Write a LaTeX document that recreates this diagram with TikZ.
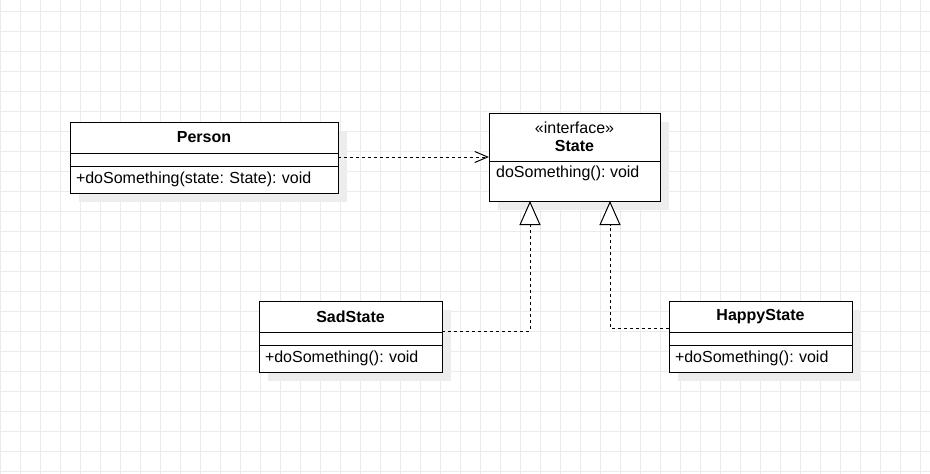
\documentclass[tikz,border=0pt]{standalone}
\usepackage{fontspec}
\setmainfont{Liberation Sans}
\usepackage{tikz}
\usetikzlibrary{arrows.meta,shadows}
\definecolor{gridgray}{HTML}{EBEBEB}
\definecolor{shadowgray}{HTML}{EDEDED}

\begin{document}
\frenchspacing
\begin{tikzpicture}[
  x=1pt,y=-1pt,
  font=\fontsize{16pt}{17.5pt}\selectfont,
  gridline/.style={draw=gridgray,line width=0.8pt},
  part/.style={draw=black,line width=1pt,fill=white,anchor=north west,inner sep=0pt,outer sep=0pt,
    drop shadow={shadow xshift=9pt,shadow yshift=-9pt,fill=shadowgray,opacity=1}},
  ctitle/.style={part,font=\fontsize{16pt}{17.5pt}\selectfont\bfseries,align=center},
  cattr/.style={part,minimum height=13pt},
  cops/.style={part,align=left,inner xsep=6pt},
  optext/.style={anchor=west,inner sep=0pt},
  dep/.style={draw=black,line width=1pt,dash pattern=on 3pt off 3pt,
    -{Straight Barb[length=13pt,width=11pt,line width=1pt]}},
  real/.style={draw=black,line width=1pt,dash pattern=on 3pt off 3pt,
    -{Triangle[length=24pt,width=21pt,fill=white,line width=1pt]}},
]

% canvas and grid
\useasboundingbox[fill=white] (0,0) rectangle (930,474);
\foreach \gx in {0,20,...,920}
  \draw[gridline] (\gx,0) -- (\gx,474);
\foreach \gy in {11,31,...,471}
  \draw[gridline] (0,\gy) -- (930,\gy);

% Person
\node[ctitle,minimum width=268pt,minimum height=31pt] (person) at (70,122) {Person};
\node[cattr,minimum width=268pt] (personattr) at (person.south west) {};
\node[cops,minimum width=268pt,minimum height=27pt,text width=256pt] (personops) at (personattr.south west) {+doSomething(state: State): void};

% State
\node[ctitle,minimum width=171pt,minimum height=48pt] (state) at (489,113) {\mdseries «interface»\\State};
\node[part,minimum width=171pt,minimum height=40pt] (stateops) at (state.south west) {};
\node[optext] (stateopstext) at ([xshift=7pt,yshift=-12pt]stateops.north west) {doSomething(): void};

% SadState
\node[ctitle,minimum width=183pt,minimum height=31pt] (sad) at (259,301) {SadState};
\node[cattr,minimum width=183pt] (sadattr) at (sad.south west) {};
\node[cops,minimum width=183pt,minimum height=27pt,text width=171pt] (sadops) at (sadattr.south west) {+doSomething(): void};

% HappyState
\node[ctitle,minimum width=183pt,minimum height=31pt] (happy) at (669,301) {HappyState};
\node[cattr,minimum width=183pt] (happyattr) at (happy.south west) {};
\node[cops,minimum width=183pt,minimum height=27pt,text width=171pt] (happyops) at (happyattr.south west) {+doSomething(): void};

% connectors
\coordinate (tipL) at ([xshift=41pt]stateops.south west);
\coordinate (tipR) at ([xshift=121pt]stateops.south west);
\draw[dep] ([yshift=2.5pt]personattr.east) -- ([yshift=2.5pt]personattr.east -| state.west);
\draw[real] ([yshift=1pt]sad.south east) -| (tipL);
\draw[real] ([yshift=4pt]happy.south west) -| (tipR);
\end{tikzpicture}
\end{document}
